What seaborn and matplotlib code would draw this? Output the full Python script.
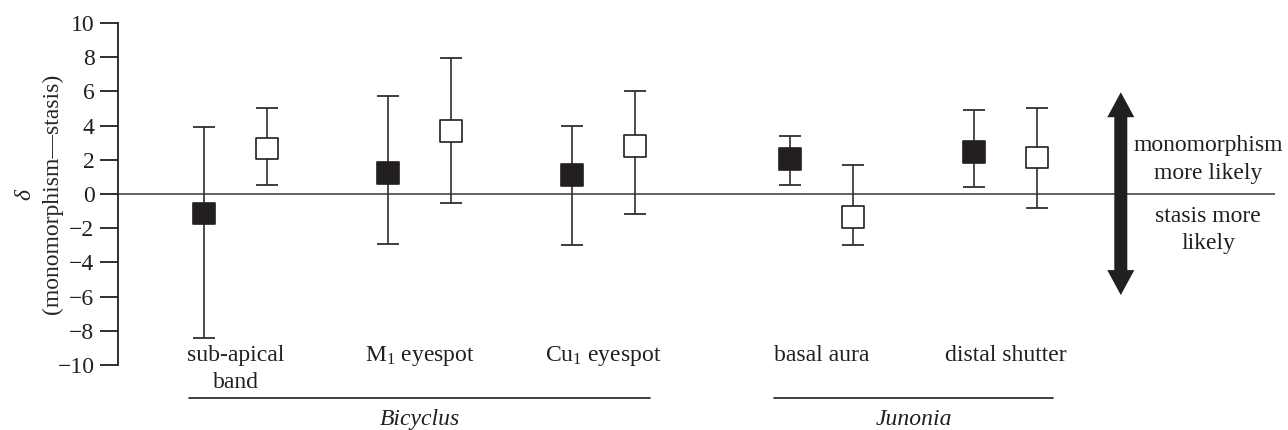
import matplotlib
matplotlib.use("Agg")
import numpy as np
import pandas as pd
import matplotlib.pyplot as plt
import matplotlib.patches as mpatches
import seaborn as sns

# trait categories and where each sits on the x axis
categories = ["sub-apical\nband", r"M$_1$ eyespot", r"Cu$_1$ eyespot", "basal aura", "distal shutter"]
genus = ["Bicyclus", "Bicyclus", "Bicyclus", "Junonia", "Junonia"]
xpos = [0.0, 1.0, 2.0, 3.185, 4.185]

# filled squares: estimate with lower / upper bounds
filled_mid = [-1.14, 1.21, 1.09, 2.03, 2.44]
filled_lo = [-8.42, -2.93, -2.99, 0.53, 0.41]
filled_hi = [3.89, 5.76, 3.95, 3.39, 4.94]

# open squares
open_mid = [2.66, 3.67, 2.79, -1.33, 2.13]
open_lo = [0.53, -0.54, -1.17, -2.97, -0.83]
open_hi = [5.02, 7.98, 6.01, 1.69, 5.04]

yticks = list(range(-10, 11, 2))

dark = "#231f20"
off = 0.171

sns.set_style("ticks")
plt.rcParams["font.family"] = ["Liberation Serif", "DejaVu Serif"]
plt.rcParams["mathtext.fontset"] = "custom"
plt.rcParams["mathtext.rm"] = "Liberation Serif"
plt.rcParams["mathtext.it"] = "Liberation Serif:italic"
plt.rcParams["text.color"] = dark

fig = plt.figure(figsize=(12.88, 4.3), dpi=100)
ax = fig.add_axes([118 / 1288, 65 / 430, 1157 / 1288, 342 / 430])

df = pd.DataFrame({
    "x": np.concatenate([np.array(xpos) - off, np.array(xpos) + off]),
    "y": filled_mid + open_mid,
    "lo": filled_lo + open_lo,
    "hi": filled_hi + open_hi,
    "kind": ["filled"] * 5 + ["open"] * 5,
})

ax.axhline(0, color="#555555", lw=1.3, zorder=1)

ax.errorbar(df["x"], df["y"], yerr=[df["y"] - df["lo"], df["hi"] - df["y"]],
            fmt="none", ecolor="#2e2e2e", elinewidth=1.2, capsize=7.9, capthick=1.3, zorder=2)

sns.scatterplot(data=df, x="x", y="y", hue="kind", hue_order=["filled", "open"],
                palette={"filled": dark, "open": "white"}, marker="s", s=245,
                edgecolor=dark, linewidth=1.2, legend=False, zorder=3, ax=ax)

# double-headed arrow on the right
ax_x = 4.811
for tip in (5.95, -5.91):
    ax.add_patch(mpatches.FancyArrow(ax_x, 0, 0, tip, width=0.0707, head_width=0.147,
                                     head_length=1.46, length_includes_head=True,
                                     color=dark, lw=0, zorder=3, clip_on=False))
ax.text(5.285, 2.0, "monomorphism\nmore likely", ha="center", va="center",
        fontsize=17, linespacing=1.45, clip_on=False)
ax.text(5.285, -2.09, "stasis more\nlikely", ha="center", va="center",
        fontsize=17, linespacing=1.35, clip_on=False)

# category labels
for x, lab in zip(xpos, categories):
    for i, line in enumerate(lab.split("\n")):
        ax.text(x, -9.45 - 1.55 * i, line, ha="center", va="center", fontsize=17, clip_on=False)

# genus brackets
for g in ["Bicyclus", "Junonia"]:
    xs = [x for x, gg in zip(xpos, genus) if gg == g]
    c = (xs[0] + xs[-1]) / 2
    half = 1.255 if len(xs) == 3 else 0.758
    ax.plot([c - half, c + half], [-11.92, -11.92], color=dark, lw=1.2, clip_on=False)
    ax.text(c, -13.2, g, ha="center", va="center", fontsize=17, style="italic", clip_on=False)

ax.set_xlim(-0.6386, 5.649)
ax.set_ylim(-10, 10)
ax.set_yticks(yticks)
ax.set_xticks([])
ax.set_xlabel("")
ax.set_ylabel("$\\delta$\n(monomorphism\u2014stasis)", fontsize=17, linespacing=1.35,
              va="center", multialignment="center")
ax.yaxis.set_label_coords(-0.0685, 0.5)
ax.tick_params(axis="y", length=13, width=1.3, pad=4, labelsize=17, colors=dark)
for s in ["top", "right", "bottom"]:
    ax.spines[s].set_visible(False)
ax.spines["left"].set_linewidth(1.3)
ax.spines["left"].set_color(dark)

fig.savefig("out.png", dpi=100)
